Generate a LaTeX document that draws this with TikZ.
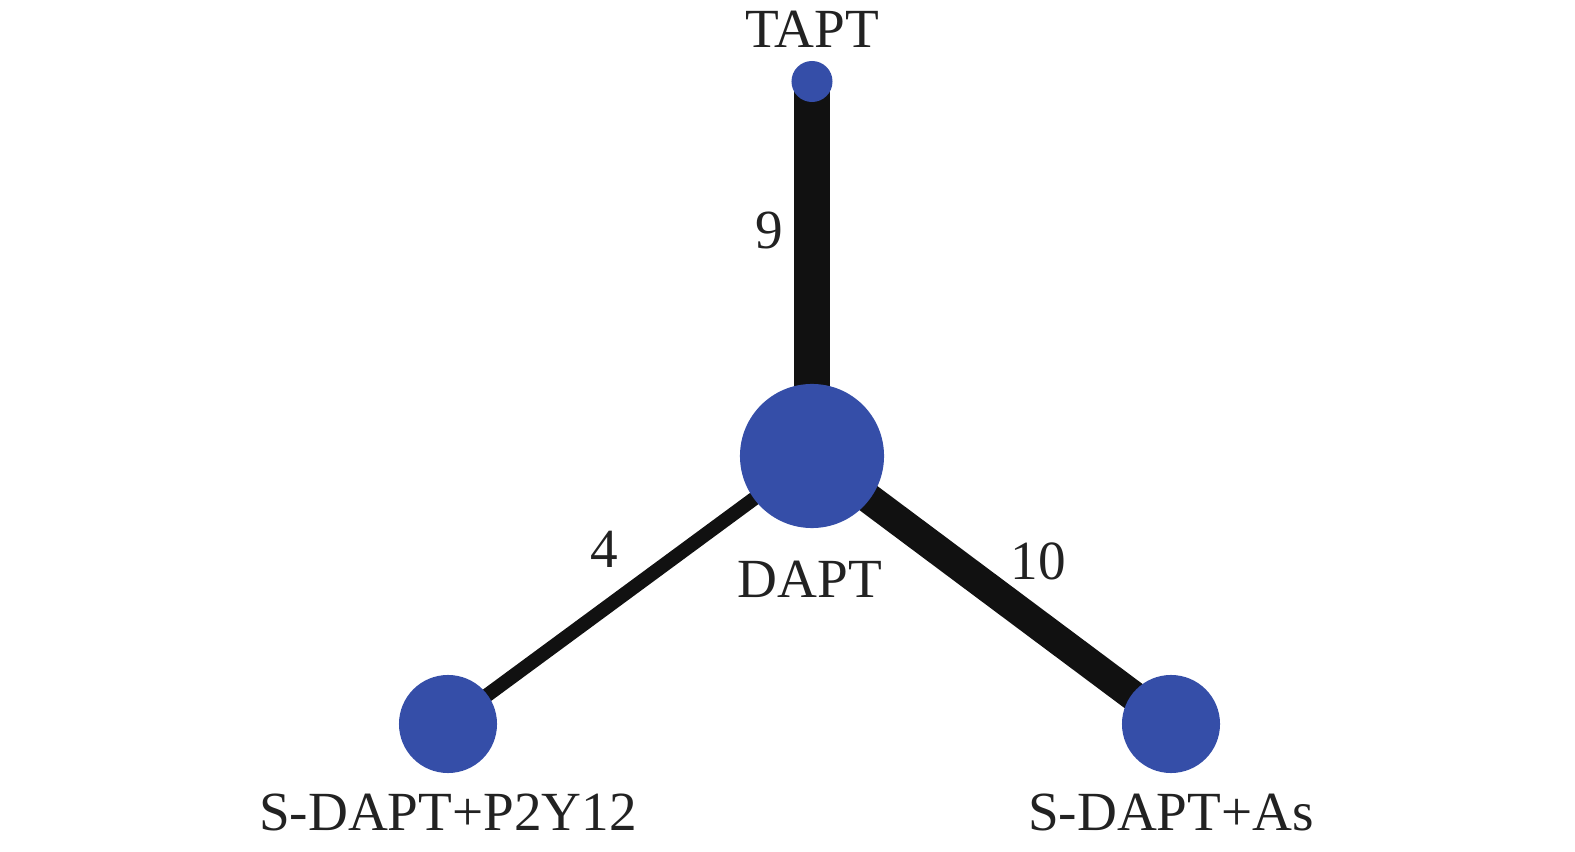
\documentclass[tikz,border=0pt]{standalone}
\usepackage{fontspec}
\setmainfont{Liberation Serif}
\definecolor{nodeblue}{HTML}{354EA8}
\definecolor{edgeblack}{HTML}{111111}
\definecolor{textblack}{HTML}{222222}
\begin{document}
\begin{tikzpicture}[x=0.01cm,y=-0.01cm,
  trt/.style={circle,fill=nodeblue,inner sep=0pt},
  lbl/.style={font=\fontsize{15.7pt}{18pt}\selectfont,text=textblack,inner sep=0pt},
  edge/.style={draw=edgeblack,line cap=butt}]
\useasboundingbox (0,0) rectangle (1575,852);
\coordinate (cT) at (812,81.5);
\coordinate (cD) at (812,456);
\coordinate (cP) at (448,724);
\coordinate (cA) at (1171,724);
\draw[edge,line width=0.35cm] (cD) -- (cT);
\draw[edge,line width=0.14cm] (cD) -- (cP);
\draw[edge,line width=0.30cm] (cD) -- (cA);
\node[trt,minimum size=0.41cm] (TAPT) at (cT) {};
\node[trt,minimum size=1.44cm] (DAPT) at (cD) {};
\node[trt,minimum size=0.98cm] (P2Y) at (cP) {};
\node[trt,minimum size=0.98cm] (As) at (cA) {};
\node[lbl] (lT) at (812,29) {TAPT};
\node[lbl] (lD) at (810,579) {DAPT};
\node[lbl] (lP) at (448,812) {S-DAPT+P2Y12};
\node[lbl] (lA) at (1171,812) {S-DAPT+As};
\node[lbl] (n9) at (769,230) {9};
\node[lbl] (n4) at (604,549) {4};
\node[lbl] (n10) at (1038,561) {10};
\end{tikzpicture}
\end{document}
